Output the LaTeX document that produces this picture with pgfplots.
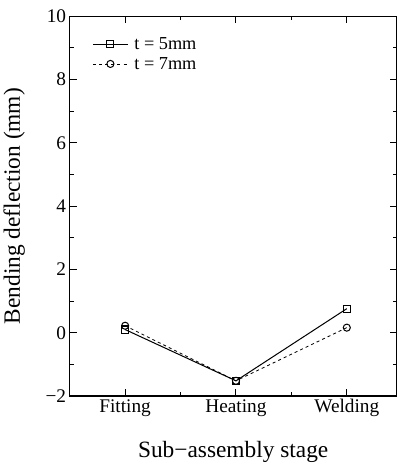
\documentclass[border=0pt]{standalone}
\usepackage{pgfplots}
\pgfplotsset{compat=1.18}
\usepackage{fontspec}
\setmainfont{Liberation Serif}
\begin{document}
\begin{tikzpicture}
\begin{axis}[
  scale only axis,
  width=322pt, height=374pt,
  xmin=-0.5, xmax=2.45,
  ymin=-2, ymax=10,
  xtick={0,1,2},
  xticklabels={Fitting,Heating,Welding},
  minor x tick num=1,
  ytick={-2,0,2,4,6,8,10},
  yticklabels={−2,0,2,4,6,8,10},
  minor y tick num=1,
  tick align=inside,
  major tick length=7pt,
  minor tick length=4pt,
  tick style={black, line width=1pt},
  axis line style={line width=1.2pt},
  ticklabel style={font=\fontsize{19}{21}\selectfont},
  xlabel={Sub−assembly stage},
  ylabel={Bending deflection (mm)},
  label style={font=\fontsize{23}{26}\selectfont},
  x label style={at={(axis description cs:0.5,-0.11)}, anchor=north},
  y label style={at={(axis description cs:-0.17,0.5)}, anchor=center},
  legend style={at={(0.06,0.955)}, anchor=north west, draw=none, fill=none,
    font=\fontsize{18}{20}\selectfont, row sep=2pt,
    /tikz/every odd column/.append style={column sep=4pt}},
  legend cell align=left,
  legend image code/.code={\draw[mark repeat=2,mark phase=2,#1] plot coordinates {(0cm,0cm) (0.6cm,0cm) (1.2cm,0cm)};},
]
\addplot[black, line width=1pt, mark=square, mark size=3.5pt, mark options={solid, line width=1pt}] coordinates {(0,0.1) (1,-1.52) (2,0.76)};
\addlegendentry{t = 5mm}
\addplot[black, line width=0.8pt, dashed, mark=o, mark size=3.5pt, mark options={solid, line width=1pt}] coordinates {(0,0.22) (1,-1.52) (2,0.16)};
\addlegendentry{t = 7mm}
\end{axis}
\path (current axis.north west) ++(0,16pt) coordinate (topmargin);
\end{tikzpicture}
\end{document}
